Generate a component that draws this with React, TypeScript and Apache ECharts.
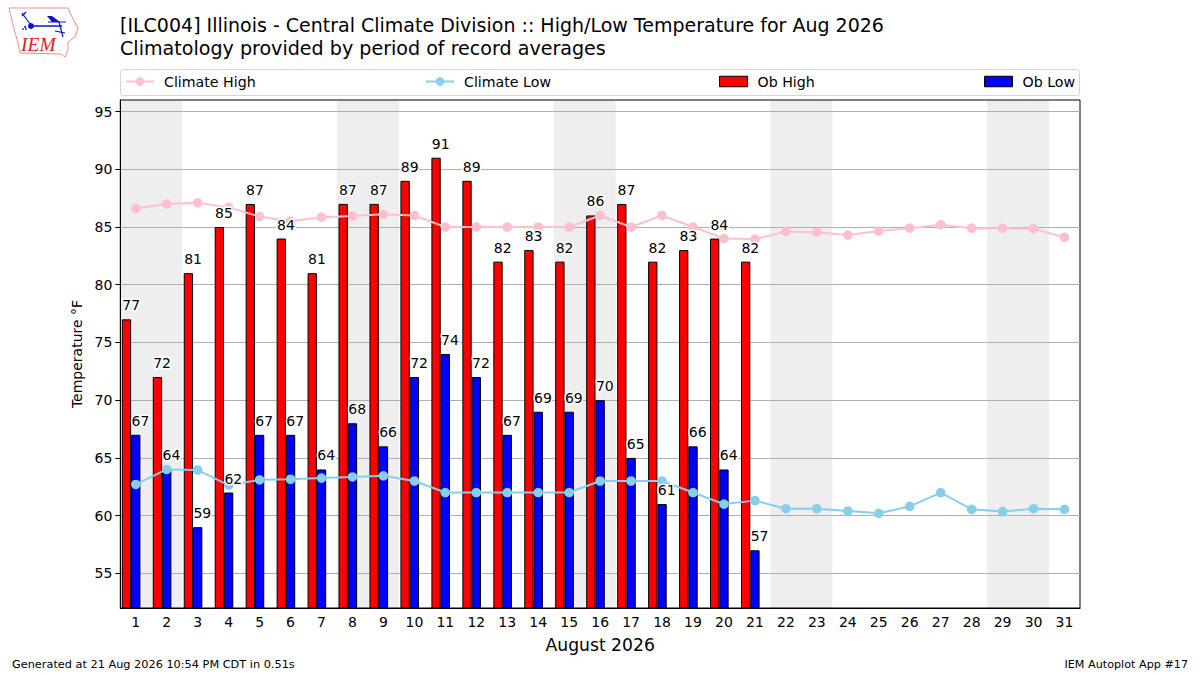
import React, { useEffect, useRef } from "react";
import * as echarts from "echarts";

const days = Array.from({ length: 31 }, (_, i) => String(i + 1));
const obHigh = [77, 72, 81, 85, 87, 84, 81, 87, 87, 89, 91, 89, 82, 83, 82, 86, 87, 82, 83, 84, 82];
const obLow = [67, 64, 59, 62, 67, 67, 64, 68, 66, 72, 74, 72, 67, 69, 69, 70, 65, 61, 66, 64, 57];
const climateHigh = [86.6, 87.0, 87.1, 86.7, 85.9, 85.5, 85.85, 85.95, 86.1, 86, 85, 85, 85, 85, 85, 86, 85, 86, 85, 84, 83.95, 84.6, 84.55, 84.3, 84.65, 84.9, 85.2, 84.9, 84.9, 84.85, 84.1];
const climateLow = [62.7, 64, 63.95, 62.65, 63.1, 63.15, 63.25, 63.35, 63.45, 63, 62, 62, 62, 62, 62, 63, 63, 63, 62, 61, 61.3, 60.6, 60.6, 60.4, 60.2, 60.8, 62, 60.55, 60.35, 60.6, 60.55];
const weekendStarts = [1, 8, 15, 22, 29];
const yTicks = [55, 60, 65, 70, 75, 80, 85, 90, 95];

const FONT = "DejaVu Sans";
const LOGO_BLUE = "#1010cc";

const labelSeries = (values: number[], shift: number) => ({
  type: "custom",
  z: 6,
  silent: true,
  data: values.map((v, i) => [i, v]),
  renderItem: (_p: any, api: any) => {
    const [x, y] = api.coord([api.value(0), api.value(1)]);
    return {
      type: "text",
      x: x + shift,
      y: y - 14,
      style: {
        text: String(api.value(1)),
        fontFamily: FONT,
        fontSize: 14,
        fill: "#000",
        align: "center",
        verticalAlign: "middle",
        stroke: "#fff",
        lineWidth: 3,
      },
    };
  },
});

export default function App() {
  const ref = useRef<HTMLDivElement>(null);
  useEffect(() => {
    document.body.style.margin = "0";
    const chart = echarts.init(ref.current!, undefined, { renderer: "svg" });
    const legendBase = {
      top: 74.5,
      orient: "horizontal",
      itemWidth: 28,
      itemHeight: 10.5,
      itemGap: 0,
      textStyle: { fontFamily: FONT, fontSize: 14.2, color: "#000", padding: [0, 0, 0, 5] },
      padding: 0,
      selectedMode: false,
    };
    const titleStyle = (fontSize: number) => ({ fontFamily: FONT, fontSize, fontWeight: "normal", color: "#000" });
    chart.setOption({
      animation: false,
      backgroundColor: "#fff",
      textStyle: { fontFamily: FONT },
      title: [
        { text: "[ILC004] Illinois - Central Climate Division :: High/Low Temperature for Aug 2026", left: 120, top: 15, padding: 0, textStyle: titleStyle(19) },
        { text: "Climatology provided by period of record averages", left: 120, top: 39, padding: 0, textStyle: titleStyle(19.1) },
        { text: "Generated at 21 Aug 2026 10:54 PM CDT in 0.51s", left: 12, top: 659, padding: 0, textStyle: titleStyle(11.3) },
        { text: "IEM Autoplot App #17", right: 12, top: 659, padding: 0, textStyle: titleStyle(11.2) },
      ],
      legend: [
        { ...legendBase, left: 125, data: ["Climate High"] },
        { ...legendBase, left: 425, data: ["Climate Low"] },
        { ...legendBase, left: 719, data: [{ name: "Ob High", icon: "rect", itemStyle: { borderWidth: 1, borderColor: "#000" } }] },
        { ...legendBase, left: 984, data: [{ name: "Ob Low", icon: "rect", itemStyle: { borderWidth: 1, borderColor: "#000" } }] },
      ],
      grid: { left: 120.3, top: 100, width: 959.7, height: 508, show: true, borderColor: "#000", borderWidth: 1, backgroundColor: "transparent" },
      xAxis: {
        type: "category",
        data: days,
        name: "August 2026",
        nameLocation: "middle",
        nameGap: 28,
        nameTextStyle: { fontFamily: FONT, fontSize: 17.2, color: "#000" },
        axisLine: { lineStyle: { color: "#000", width: 1 } },
        axisTick: { alignWithLabel: true, length: 5, lineStyle: { color: "#000" } },
        axisLabel: { interval: 0, fontFamily: FONT, fontSize: 14, color: "#000", margin: 7 },
        splitLine: { show: false },
      },
      yAxis: {
        type: "value",
        min: 52,
        max: 96,
        name: "Temperature °F",
        nameLocation: "middle",
        nameGap: 34,
        nameTextStyle: { fontFamily: FONT, fontSize: 14, color: "#000" },
        axisLine: { show: true, lineStyle: { color: "#000", width: 1 } },
        axisTick: { show: true, length: 5, customValues: yTicks, lineStyle: { color: "#000" } },
        axisLabel: { fontFamily: FONT, fontSize: 14, color: "#000", margin: 8, customValues: yTicks },
        splitLine: { show: true, lineStyle: { color: "#b0b0b0", width: 1 } },
      },
      series: [
        {
          type: "custom",
          z: -1,
          silent: true,
          data: weekendStarts.map((d) => [d - 1]),
          renderItem: (_p: any, api: any) => {
            const x = api.coord([api.value(0), 0])[0];
            const w = api.size([1, 0])[0];
            const top = api.coord([0, 96])[1];
            const bottom = api.coord([0, 52])[1];
            return {
              type: "rect",
              shape: { x: x - w / 2, y: top + 0.5, width: 2 * w, height: bottom - top - 0.5 },
              style: { fill: "#eeeeee" },
            };
          },
        },
        {
          name: "Ob High", type: "bar", data: obHigh, barWidth: 9.3, barGap: "0%", z: 2,
          itemStyle: { color: "#ff0000", borderColor: "#000", borderWidth: 1 },
        },
        {
          name: "Ob Low", type: "bar", data: obLow, barWidth: 9.3, barGap: "0%", z: 2,
          itemStyle: { color: "#0000ff", borderColor: "#000", borderWidth: 1 },
        },
        { name: "spacer", type: "bar", data: [], barWidth: 9.3, barGap: "0%" },
        {
          name: "Climate High", type: "line", data: climateHigh, z: 4, symbol: "circle", symbolSize: 9.6,
          lineStyle: { color: "#ffc0cb", width: 2 }, itemStyle: { color: "#ffc0cb" },
        },
        {
          name: "Climate Low", type: "line", data: climateLow, z: 4, symbol: "circle", symbolSize: 9.6,
          lineStyle: { color: "#87ceeb", width: 2 }, itemStyle: { color: "#87ceeb" },
        },
        labelSeries(obHigh, -4.65),
        labelSeries(obLow, 4.65),
      ],
      graphic: [
        {
          type: "rect",
          z: 1,
          shape: { x: 120.5, y: 69.5, width: 959, height: 26, r: 3 },
          style: { fill: "#fff", stroke: "#d4d4d4", lineWidth: 1 },
        },
        {
          type: "polyline",
          shape: { points: [[9, 8], [68, 8], [72, 17], [78, 28], [75, 37], [68, 42], [68, 50], [65, 57], [61, 54], [20, 53], [18, 43], [13, 25], [9, 8]] },
          style: { fill: "none", stroke: "#ee8f8f", lineWidth: 1 },
        },
        { type: "line", shape: { x1: 31, y1: 26, x2: 62, y2: 26 }, style: { stroke: LOGO_BLUE, lineWidth: 1.5 } },
        { type: "circle", shape: { cx: 31, cy: 26, r: 3 }, style: { fill: LOGO_BLUE } },
        { type: "line", shape: { x1: 22, y1: 13, x2: 30, y2: 24 }, style: { stroke: LOGO_BLUE, lineWidth: 1.2 } },
        { type: "line", shape: { x1: 22, y1: 16, x2: 26, y2: 12 }, style: { stroke: LOGO_BLUE, lineWidth: 1.2 } },
        { type: "polygon", shape: { points: [[47, 16], [52, 16], [60, 22], [52, 22]] }, style: { fill: LOGO_BLUE } },
        { type: "line", shape: { x1: 48, y1: 22, x2: 66, y2: 22 }, style: { stroke: LOGO_BLUE, lineWidth: 1 } },
        { type: "line", shape: { x1: 59, y1: 22, x2: 63, y2: 37 }, style: { stroke: LOGO_BLUE, lineWidth: 1.2 } },
        { type: "line", shape: { x1: 55, y1: 31, x2: 65, y2: 33 }, style: { stroke: LOGO_BLUE, lineWidth: 1.2 } },
        { type: "circle", shape: { cx: 25, cy: 27, r: 1 }, style: { fill: LOGO_BLUE } },
        { type: "circle", shape: { cx: 23, cy: 29, r: 0.8 }, style: { fill: LOGO_BLUE } },
        { type: "circle", shape: { cx: 26, cy: 29, r: 0.8 }, style: { fill: LOGO_BLUE } },
        { type: "text", x: 21, y: 34.5, style: { text: "IEM", fontFamily: "Liberation Serif", fontStyle: "italic", fontSize: 19.5, fill: "#dd2222" } },
      ],
    });
    return () => chart.dispose();
  }, []);
  return <div ref={ref} style={{ position: "absolute", left: 0, top: 0, width: 1200, height: 675 }} />;
}
